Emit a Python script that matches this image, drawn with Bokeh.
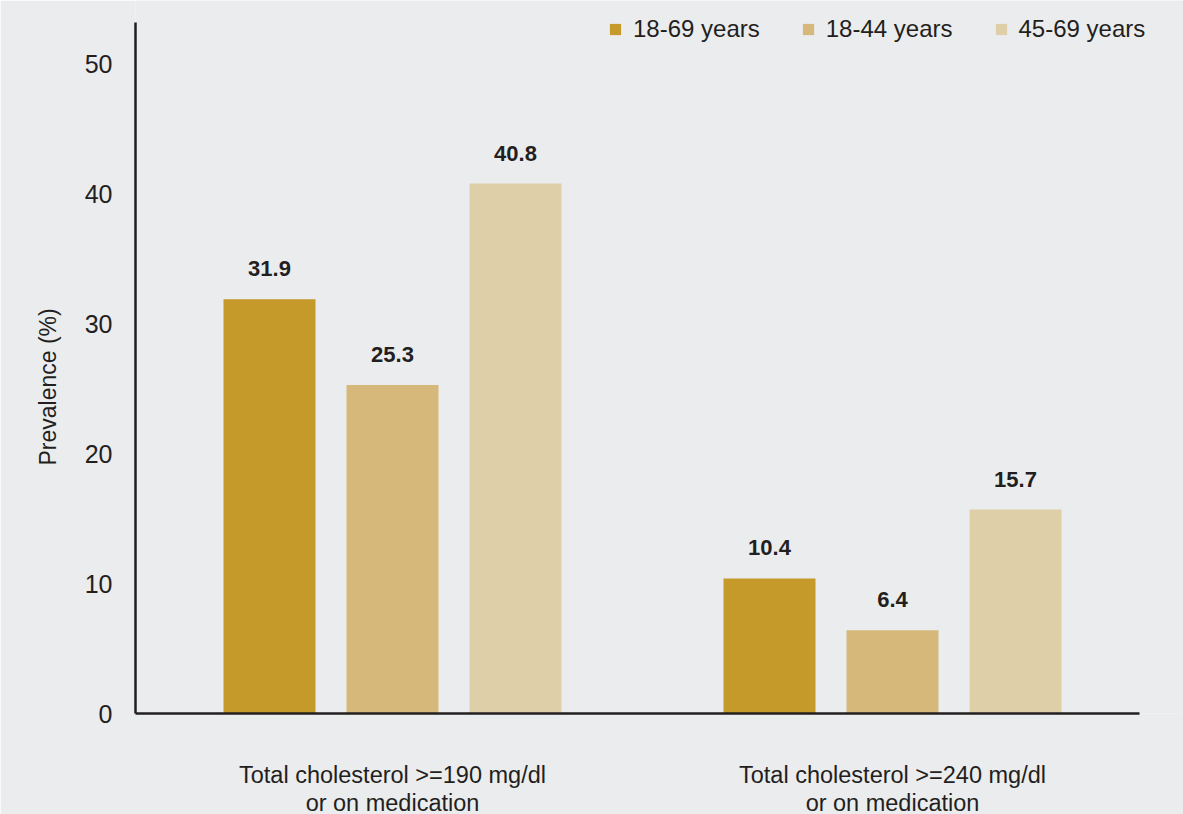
from bokeh.plotting import figure
from bokeh.models import (Range1d, FixedTicker, ColumnDataSource, Legend, LegendItem,
                          LabelSet, Title)
from bokeh.core.properties import value
from bokeh.embed import file_html
from bokeh.resources import INLINE

# ---- data ----
categories = ["Total cholesterol >=190 mg/dl\nor on medication",
              "Total cholesterol >=240 mg/dl\nor on medication"]
series = ["18-69 years", "18-44 years", "45-69 years"]
v_18_69 = [31.9, 10.4]
v_18_44 = [25.3, 6.4]
v_45_69 = [40.8, 15.7]
y_ticks = [0, 10, 20, 30, 40, 50]

# ---- style ----
BG = "#EBECEE"
INK = "#231F20"
FONT = "Liberation Sans"
colors = ["#C6992B", "#D6B97A", "#DFCFA8"]
centers = [0.5, 1.5]
offsets = [-0.246, 0.0, 0.246]
bar_w = 0.184

p = figure(frame_width=1048, frame_height=713,
           x_range=Range1d(-0.014, 2.082), y_range=Range1d(0, 54.894),
           output_backend="svg", toolbar_location=None,
           min_border_left=135, min_border_right=0,
           min_border_top=0, min_border_bottom=101)
p.background_fill_color = BG
p.border_fill_color = BG
p.outline_line_color = None
p.xgrid.visible = False
p.ygrid.visible = False

renderers = []
for vals, col, off, name in zip([v_18_69, v_18_44, v_45_69], colors, offsets, series):
    xs = [c + off for c in centers]
    src = ColumnDataSource(dict(x=xs, top=vals, lab=[f"{v:.1f}" for v in vals]))
    r = p.vbar(x="x", top="top", width=bar_w, bottom=0, source=src,
               fill_color=col, line_color=None)
    renderers.append((name, r))
    labels = LabelSet(x="x", y="top", text="lab", source=src, y_offset=23,
                      text_align="center", text_baseline="bottom",
                      text_font=value(FONT), text_font_size="22px",
                      text_font_style="bold", text_color=INK)
    p.add_layout(labels)

# axes
xa = p.xaxis[0]
xa.ticker = FixedTicker(ticks=centers)
xa.bounds = (-0.014, 1.994)
xa.major_label_overrides = {c: lab for c, lab in zip(centers, categories)}
xa.major_tick_in = 0
xa.major_tick_out = 0
xa.minor_tick_in = 0
xa.minor_tick_out = 0
xa.major_label_standoff = 48
xa.major_label_text_font = FONT
xa.major_label_text_font_size = "23.5px"
xa.major_label_text_line_height = 1.08
xa.major_label_text_color = INK
xa.axis_line_color = INK
xa.axis_line_width = 2.5

ya = p.yaxis[0]
ya.ticker = FixedTicker(ticks=y_ticks)
ya.bounds = (0, 53.2)
ya.major_tick_in = 0
ya.major_tick_out = 0
ya.minor_tick_in = 0
ya.minor_tick_out = 0
ya.major_label_standoff = 23
ya.major_label_text_font = FONT
ya.major_label_text_font_size = "25px"
ya.major_label_text_color = INK
ya.axis_line_color = INK
ya.axis_line_width = 2.5

ylab = Title(text="Prevalence (%)", align="left", offset=248, standoff=42,
             text_font=FONT, text_font_size="23px", text_font_style="normal",
             text_color=INK)
p.add_layout(ylab, "left")

legend = Legend(items=[LegendItem(label=n, renderers=[r]) for n, r in renderers],
                orientation="horizontal", location=(473, 670),
                background_fill_alpha=0, border_line_color=None,
                glyph_width=14, glyph_height=14, label_standoff=11, spacing=41,
                label_text_font=FONT, label_text_font_size="24px",
                label_text_color=INK, padding=0, margin=0)
p.add_layout(legend)

open("out.html", "w").write(file_html(p, INLINE))
